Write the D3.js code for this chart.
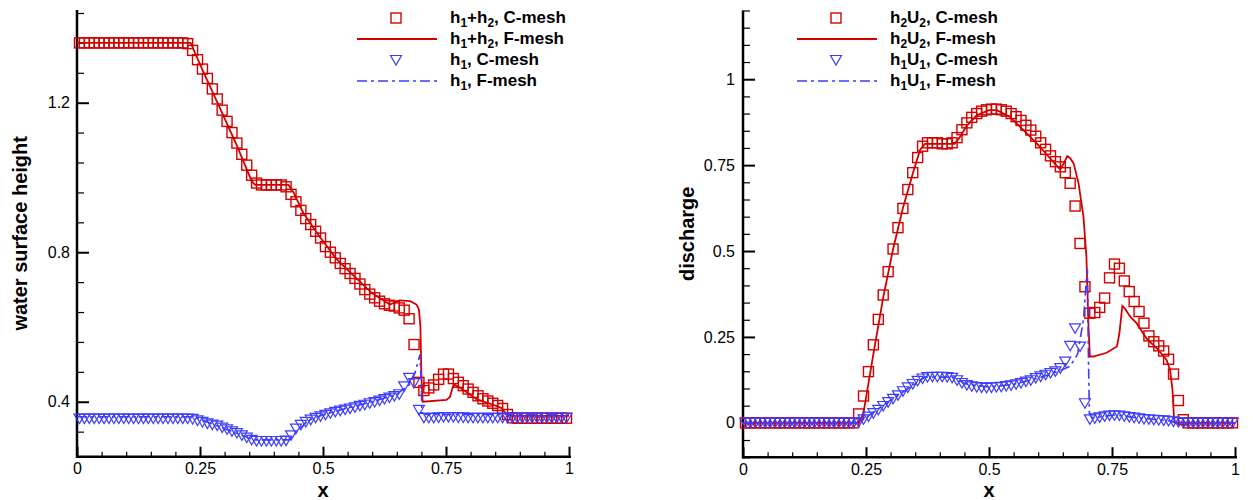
<!DOCTYPE html>
<html>
<head>
<meta charset="utf-8">
<script src="https://cdn.jsdelivr.net/npm/d3@7"></script>
<style>
  body { margin: 0; background: #fff; }
  text { font-family: "Liberation Sans", Arial, sans-serif; }
</style>
</head>
<body>
<div id="chart"></div>
<script>
// cell centres of the coarse mesh
const xCells = [0.005,0.015,0.025,0.035,0.045,0.055,0.065,0.075,0.085,0.095,
  0.105,0.115,0.125,0.135,0.145,0.155,0.165,0.175,0.185,0.195,
  0.205,0.215,0.225,0.235,0.245,0.255,0.265,0.275,0.285,0.295,
  0.305,0.315,0.325,0.335,0.345,0.355,0.365,0.375,0.385,0.395,
  0.405,0.415,0.425,0.435,0.445,0.455,0.465,0.475,0.485,0.495,
  0.505,0.515,0.525,0.535,0.545,0.555,0.565,0.575,0.585,0.595,
  0.605,0.615,0.625,0.635,0.645,0.655,0.665,0.675,0.685,0.695,
  0.705,0.715,0.725,0.735,0.745,0.755,0.765,0.775,0.785,0.795,
  0.805,0.815,0.825,0.835,0.845,0.855,0.865,0.875,0.885,0.895,
  0.905,0.915,0.925,0.935,0.945,0.955,0.965,0.975,0.985,0.995];

// left panel: h1+h2 on C-mesh
const surfC = [1.36,1.36,1.36,1.36,1.36,1.36,1.36,1.36,1.36,1.36,
  1.36,1.36,1.36,1.36,1.36,1.36,1.36,1.36,1.36,1.36,
  1.36,1.36,1.358,1.34,1.315,1.29,1.265,1.237,1.21,1.18,
  1.15,1.12,1.092,1.062,1.033,1.006,0.985,0.98,0.98,0.98,
  0.98,0.98,0.975,0.955,0.935,0.912,0.89,0.874,0.856,0.838,
  0.815,0.8,0.785,0.77,0.756,0.743,0.73,0.715,0.7,0.688,
  0.678,0.669,0.662,0.658,0.656,0.651,0.645,0.622,0.553,0.452,
  0.43,0.437,0.445,0.46,0.474,0.474,0.462,0.452,0.443,0.434,
  0.425,0.416,0.408,0.402,0.396,0.39,0.382,0.366,0.357,0.356,
  0.356,0.356,0.356,0.356,0.356,0.356,0.356,0.356,0.356,0.356];

// left panel: h1 on C-mesh
const h1C = [0.355,0.355,0.355,0.355,0.355,0.355,0.355,0.355,0.355,0.355,
  0.355,0.355,0.355,0.355,0.355,0.355,0.355,0.355,0.355,0.355,
  0.355,0.355,0.355,0.354,0.35,0.346,0.342,0.339,0.336,0.331,
  0.326,0.321,0.316,0.31,0.304,0.298,0.295,0.295,0.295,0.295,
  0.295,0.295,0.296,0.31,0.328,0.338,0.346,0.352,0.357,0.361,
  0.365,0.369,0.373,0.376,0.379,0.382,0.385,0.389,0.392,0.396,
  0.399,0.403,0.407,0.411,0.415,0.42,0.441,0.464,0.45,0.378,
  0.357,0.357,0.357,0.358,0.359,0.359,0.359,0.358,0.358,0.357,
  0.357,0.357,0.357,0.357,0.357,0.357,0.357,0.357,0.357,0.357,
  0.357,0.357,0.357,0.357,0.357,0.357,0.357,0.357,0.357,0.357];

// left panel: F-mesh lines
const surfFx = [0,0.231,0.257,0.291,0.325,0.355,0.362,0.43,0.44,0.46,0.494,0.528,0.56,0.6,0.636,0.656,0.677,0.69,0.695,0.698,0.7,0.7026,0.751,0.758,0.764,0.768,0.785,0.812,0.846,0.863,0.872,0.877,1];
const surfFv = [1.36,1.36,1.282,1.184,1.085,0.99,0.98,0.98,0.96,0.905,0.84,0.781,0.74,0.69,0.66,0.671,0.669,0.66,0.647,0.6,0.47,0.4,0.405,0.413,0.441,0.445,0.432,0.407,0.392,0.383,0.368,0.362,0.362];
const h1Fx = [0,0.235,0.3,0.36,0.43,0.44,0.47,0.5,0.55,0.6,0.65,0.675,0.687,0.697,0.7,0.701,0.71,1];
const h1Fv = [0.36,0.36,0.328,0.298,0.298,0.31,0.35,0.365,0.383,0.4,0.42,0.445,0.477,0.526,0.45,0.37,0.366,0.366];

// right panel: h2U2 on C-mesh
const q2C = [0,0,0,0,0,0,0,0,0,0,
  0,0,0,0,0,0,0,0,0,0,
  0,0,0,0.026,0.078,0.149,0.227,0.301,0.372,0.44,
  0.506,0.568,0.624,0.679,0.728,0.772,0.805,0.815,0.815,0.815,
  0.812,0.812,0.815,0.83,0.853,0.873,0.889,0.9,0.907,0.911,
  0.913,0.913,0.911,0.907,0.9,0.891,0.88,0.866,0.852,0.834,
  0.815,0.796,0.777,0.76,0.745,0.728,0.697,0.631,0.522,0.396,
  0.319,0.321,0.336,0.363,0.422,0.462,0.45,0.413,0.382,0.353,
  0.324,0.29,0.253,0.236,0.224,0.209,0.185,0.142,0.065,0.009,
  0,0,0,0,0,0,0,0,0,0];

// right panel: h1U1 on C-mesh
const q1C = [0,0,0,0,0,0,0,0,0,0,
  0,0,0,0,0,0,0,0,0,0,
  0,0,0,0.002,0.01,0.018,0.028,0.038,0.049,0.06,
  0.07,0.08,0.092,0.103,0.113,0.122,0.129,0.133,0.134,0.134,
  0.134,0.133,0.131,0.124,0.116,0.11,0.106,0.104,0.103,0.102,
  0.103,0.104,0.105,0.107,0.109,0.112,0.116,0.12,0.124,0.13,
  0.135,0.14,0.145,0.15,0.159,0.178,0.224,0.275,0.222,0.057,
  0.01,0.013,0.016,0.019,0.021,0.022,0.021,0.019,0.017,0.015,
  0.013,0.011,0.01,0.009,0.008,0.007,0.006,0.004,0.002,0,
  0,0,0,0,0,0,0,0,0,0];

// right panel: F-mesh lines
const q2Fx = [0,0.236,0.245,0.265,0.285,0.305,0.325,0.345,0.36,0.37,0.43,0.44,0.455,0.475,0.5,0.516,0.543,0.57,0.597,0.624,0.641,0.645,0.652,0.659,0.665,0.672,0.682,0.692,0.698,0.702,0.705,0.712,0.739,0.76,0.765,0.771,0.776,0.787,0.8,0.82,0.841,0.861,0.868,0.873,0.876,0.878,1];
const q2Fv = [0,0,0.03,0.2,0.365,0.505,0.625,0.725,0.795,0.812,0.812,0.83,0.865,0.895,0.91,0.91,0.89,0.852,0.813,0.77,0.743,0.738,0.755,0.776,0.77,0.755,0.697,0.6,0.483,0.29,0.193,0.193,0.204,0.222,0.26,0.34,0.333,0.309,0.29,0.246,0.217,0.183,0.154,0.096,0.014,0,0];
const q1Fx = [0,0.235,0.3,0.37,0.43,0.45,0.5,0.55,0.6,0.645,0.665,0.68,0.692,0.697,0.7,0.702,0.704,0.71,0.755,0.8,0.87,0.88,1];
const q1Fv = [0,0,0.066,0.133,0.133,0.114,0.104,0.112,0.13,0.152,0.165,0.2,0.3,0.4,0.447,0.2,0.03,0.014,0.023,0.015,0.005,0,0];

// ticks
const xMajor = [0, 0.25, 0.5, 0.75, 1];
const xMinor = [0.05,0.1,0.15,0.2,0.3,0.35,0.4,0.45,0.55,0.6,0.65,0.7,0.8,0.85,0.9,0.95];
const leftYMajor = [0.4, 0.8, 1.2];
const leftYMinor = [0.32,0.48,0.56,0.64,0.72,0.88,0.96,1.04,1.12,1.28,1.36,1.44];
const rightYMajor = [0, 0.25, 0.5, 0.75, 1];
const rightYMinor = [-0.1,-0.05,0.05,0.1,0.15,0.2,0.3,0.35,0.4,0.45,0.55,0.6,0.65,0.7,0.8,0.85,0.9,0.95,1.05,1.1,1.15,1.2];

const RED = "#d40000", BLUE = "#3c3cff";

const svg = d3.select("#chart").append("svg")
    .attr("width", 1253)
    .attr("height", 500);

function makePanel(opt) {
    const x = d3.scaleLinear().domain([0, 1]).range([opt.left, opt.left + 492]);
    const y = d3.scaleLinear().domain(opt.yDomain).range([opt.bottom, opt.top]);
    const g = svg.append("g");

    // bottom axis
    g.append("g")
        .attr("transform", "translate(0," + opt.bottom + ")")
        .call(d3.axisBottom(x).tickValues(xMinor).tickSize(-5).tickFormat(""))
        .call(a => a.select(".domain").remove())
        .call(a => a.selectAll("line").attr("stroke-width", 1.2));
    g.append("g")
        .attr("transform", "translate(0," + opt.bottom + ")")
        .call(d3.axisBottom(x).tickValues(xMajor).tickSize(-10).tickPadding(6).tickFormat(d3.format("~g")))
        .call(a => a.select(".domain").remove())
        .call(a => a.selectAll("line").attr("stroke-width", 2))
        .call(a => a.selectAll("text").attr("font-size", 16).attr("fill", "#000")
            .style("font-family", "'Liberation Sans', Arial, sans-serif"));

    // left axis
    g.append("g")
        .attr("transform", "translate(" + opt.left + ",0)")
        .call(d3.axisLeft(y).tickValues(opt.yMinor).tickSize(-7).tickFormat(""))
        .call(a => a.select(".domain").remove())
        .call(a => a.selectAll("line").attr("stroke-width", 1.2));
    g.append("g")
        .attr("transform", "translate(" + opt.left + ",0)")
        .call(d3.axisLeft(y).tickValues(opt.yMajor).tickSize(-12).tickPadding(opt.yPad).tickFormat(d3.format("~g")))
        .call(a => a.select(".domain").remove())
        .call(a => a.selectAll("line").attr("stroke-width", 2))
        .call(a => a.selectAll("text").attr("font-size", 16).attr("fill", "#000")
            .style("font-family", "'Liberation Sans', Arial, sans-serif"));

    g.append("line")
        .attr("x1", opt.left).attr("x2", opt.left)
        .attr("y1", opt.top).attr("y2", opt.bottom + 1)
        .attr("stroke", "#000").attr("stroke-width", 2.5);
    g.append("line")
        .attr("x1", opt.left - 1).attr("x2", x(1) + 2)
        .attr("y1", opt.bottom).attr("y2", opt.bottom)
        .attr("stroke", "#000").attr("stroke-width", 2.5);

    // axis titles
    g.append("text")
        .attr("x", x(0.5)).attr("y", 497)
        .attr("text-anchor", "middle")
        .attr("font-size", 20).attr("font-weight", "bold")
        .text("x");
    g.append("text")
        .attr("transform", "translate(" + opt.titleX + "," + ((opt.top + opt.bottom) / 2) + ") rotate(-90)")
        .attr("text-anchor", "middle")
        .attr("font-size", 20).attr("font-weight", "bold")
        .text(opt.yTitle);

    const line = d3.line().x(d => x(d[0])).y(d => y(d[1]));

    // C-mesh squares
    g.append("g").selectAll("rect")
        .data(d3.zip(xCells, opt.redC))
        .join("rect")
        .attr("x", d => x(d[0]) - 5)
        .attr("y", d => y(d[1]) - 5)
        .attr("width", 10).attr("height", 10)
        .attr("fill", "none").attr("stroke", RED).attr("stroke-width", 1.4);

    // F-mesh red line
    g.append("path")
        .datum(d3.zip(opt.redFx, opt.redFv))
        .attr("d", line)
        .attr("fill", "none").attr("stroke", RED).attr("stroke-width", 1.8);

    // C-mesh triangles
    g.append("g").selectAll("path")
        .data(d3.zip(xCells, opt.blueC))
        .join("path")
        .attr("transform", d => "translate(" + x(d[0]) + "," + y(d[1]) + ")")
        .attr("d", "M-5.5,-4.5L5.5,-4.5L0,5Z")
        .attr("fill", "none").attr("stroke", BLUE).attr("stroke-width", 1.2);

    // F-mesh blue dash-dot line
    g.append("path")
        .datum(d3.zip(opt.blueFx, opt.blueFv))
        .attr("d", line)
        .attr("fill", "none").attr("stroke", BLUE).attr("stroke-width", 1.6)
        .attr("stroke-dasharray", "10,4,3,4");

    // legend
    const lg = g.append("g");
    const rows = [18, 39, 60, 81];
    const mx = opt.legX;
    lg.append("rect")
        .attr("x", mx - 5).attr("y", rows[0] - 5).attr("width", 10).attr("height", 10)
        .attr("fill", "none").attr("stroke", RED).attr("stroke-width", 1.4);
    lg.append("line")
        .attr("x1", mx - 39).attr("x2", mx + 41).attr("y1", rows[1]).attr("y2", rows[1])
        .attr("stroke", RED).attr("stroke-width", 1.8);
    lg.append("path")
        .attr("transform", "translate(" + mx + "," + rows[2] + ")")
        .attr("d", "M-5.5,-4.5L5.5,-4.5L0,5Z")
        .attr("fill", "none").attr("stroke", BLUE).attr("stroke-width", 1.2);
    lg.append("line")
        .attr("x1", mx - 39).attr("x2", mx + 41).attr("y1", rows[3]).attr("y2", rows[3])
        .attr("stroke", BLUE).attr("stroke-width", 1.6)
        .attr("stroke-dasharray", "10,4,3,4");

    opt.legendLabels.forEach((parts, i) => {
        const t = lg.append("text")
            .attr("x", mx + 54).attr("y", rows[i] + 5)
            .attr("font-size", 17).attr("font-weight", "bold");
        let shift = 0;
        parts.forEach(p => {
            if (p.sub) {
                t.append("tspan").attr("font-size", 12).attr("dy", 4 - shift).text(p.sub);
                shift = 4;
            } else {
                t.append("tspan").attr("dy", -shift).text(p.t);
                shift = 0;
            }
        });
    });
}

makePanel({
    left: 77, top: 10, bottom: 456.7,
    yDomain: [0.253, 1.448],
    yMajor: leftYMajor, yMinor: leftYMinor, yPad: 7,
    yTitle: "water surface height", titleX: 27,
    redC: surfC, redFx: surfFx, redFv: surfFv,
    blueC: h1C, blueFx: h1Fx, blueFv: h1Fv,
    legX: 396,
    legendLabels: [
        [{t: "h"}, {sub: "1"}, {t: "+h"}, {sub: "2"}, {t: ", C-mesh"}],
        [{t: "h"}, {sub: "1"}, {t: "+h"}, {sub: "2"}, {t: ", F-mesh"}],
        [{t: "h"}, {sub: "1"}, {t: ", C-mesh"}],
        [{t: "h"}, {sub: "1"}, {t: ", F-mesh"}]
    ]
});

makePanel({
    left: 743, top: 10.5, bottom: 457.2,
    yDomain: [-0.1, 1.2],
    yMajor: rightYMajor, yMinor: rightYMinor, yPad: 8,
    yTitle: "discharge", titleX: 694,
    redC: q2C, redFx: q2Fx, redFv: q2Fv,
    blueC: q1C, blueFx: q1Fx, blueFv: q1Fv,
    legX: 836,
    legendLabels: [
        [{t: "h"}, {sub: "2"}, {t: "U"}, {sub: "2"}, {t: ", C-mesh"}],
        [{t: "h"}, {sub: "2"}, {t: "U"}, {sub: "2"}, {t: ", F-mesh"}],
        [{t: "h"}, {sub: "1"}, {t: "U"}, {sub: "1"}, {t: ", C-mesh"}],
        [{t: "h"}, {sub: "1"}, {t: "U"}, {sub: "1"}, {t: ", F-mesh"}]
    ]
});
</script>
</body>
</html>
